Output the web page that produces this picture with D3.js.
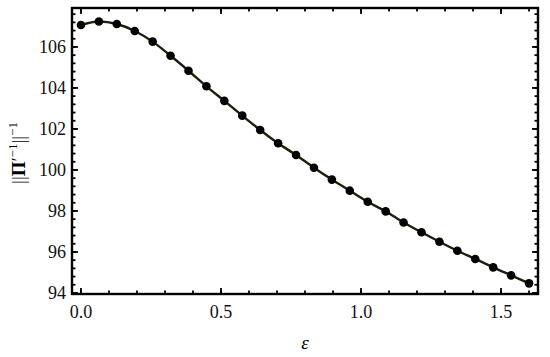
<!DOCTYPE html>
<html><head><meta charset="utf-8">
<script src="https://cdn.jsdelivr.net/npm/d3@7"></script>
<style>body{margin:0;background:#fff}svg{display:block}</style>
</head><body><svg id="c" width="550" height="357" style="font-family:'Liberation Serif','Times New Roman','DejaVu Serif',serif"></svg>
<script>
const epsilon = [0,0.064,0.128,0.192,0.256,0.32,0.384,0.448,0.512,0.576,0.64,0.704,0.768,0.832,0.896,0.96,1.024,1.088,1.152,1.216,1.28,1.344,1.408,1.472,1.536,1.6];
const norm = [107.07,107.24,107.12,106.78,106.26,105.57,104.84,104.08,103.37,102.65,101.95,101.30,100.73,100.11,99.53,98.99,98.45,97.98,97.44,96.96,96.50,96.06,95.66,95.25,94.86,94.47];
const xTicks = [0.0,0.5,1.0,1.5];
const yTicks = [94,96,98,100,102,104,106];

const FONT = "'Liberation Serif','Times New Roman','DejaVu Serif',serif";
const svg = d3.select("#c");
const L=72,R=538,T=8,B=294;
const x = d3.scaleLinear().domain([-0.032,1.632]).range([L,R]);
const y = d3.scaleLinear().domain([93.95,107.9]).range([B,T]);

const xMinor = d3.range(0,1.65,0.1).filter(v=>v<=1.632);
const yMinor = d3.range(94,107.9,0.4);

const g = svg.append("g");
function ticks(vals,len,isX){
  vals.forEach(v=>{
    if(isX){
      const px=x(v);
      g.append("line").attr("x1",px).attr("x2",px).attr("y1",B).attr("y2",B-len).attr("stroke","#000").attr("stroke-width",1.8);
      g.append("line").attr("x1",px).attr("x2",px).attr("y1",T).attr("y2",T+len).attr("stroke","#000").attr("stroke-width",1.8);
    } else {
      const py=y(v);
      g.append("line").attr("x1",L).attr("x2",L+len).attr("y1",py).attr("y2",py).attr("stroke","#000").attr("stroke-width",1.8);
      g.append("line").attr("x1",R).attr("x2",R-len).attr("y1",py).attr("y2",py).attr("stroke","#000").attr("stroke-width",1.8);
    }
  });
}
ticks(xMinor,3.5,true);
ticks(xTicks,6,true);
ticks(yMinor,3.5,false);
ticks(yTicks,6,false);

const line = d3.line().x((d,i)=>x(epsilon[i])).y(d=>y(d)).curve(d3.curveMonotoneX);
svg.append("path").datum(norm).attr("d",line).attr("fill","none").attr("stroke","#15230a").attr("stroke-width",2.4);
svg.selectAll("circle.p").data(norm).enter().append("circle")
  .attr("cx",(d,i)=>x(epsilon[i])).attr("cy",d=>y(d)).attr("r",4.3).attr("fill","#000");

svg.append("rect").attr("x",L).attr("y",T).attr("width",R-L).attr("height",B-T).attr("fill","none").attr("stroke","#000").attr("stroke-width",2.4);

xTicks.forEach(v=>{
  svg.append("text").attr("font-family",FONT).attr("x",x(v)).attr("y",318).attr("text-anchor","middle").attr("font-size",18).attr("fill","#111").text(v.toFixed(1));
});
yTicks.forEach(v=>{
  svg.append("text").attr("font-family",FONT).attr("x",66).attr("y",y(v)+6).attr("text-anchor","end").attr("font-size",18).attr("fill","#111").text(v);
});
svg.append("text").attr("font-family",FONT).attr("x",305).attr("y",349).attr("text-anchor","middle").attr("font-size",19).attr("font-style","italic").text("ε");
const yl = svg.append("text").attr("font-family",FONT).attr("transform","translate(25,153) rotate(-90)").attr("text-anchor","middle").attr("font-size",19);
yl.append("tspan").text("||");
yl.append("tspan").attr("font-weight","bold").text("Π");
yl.append("tspan").text("′");
yl.append("tspan").attr("dy",-8).attr("font-size",13).text("−1");
yl.append("tspan").attr("dy",8).text("||");
yl.append("tspan").attr("dy",-8).attr("font-size",13).text("−1");
</script></body></html>
